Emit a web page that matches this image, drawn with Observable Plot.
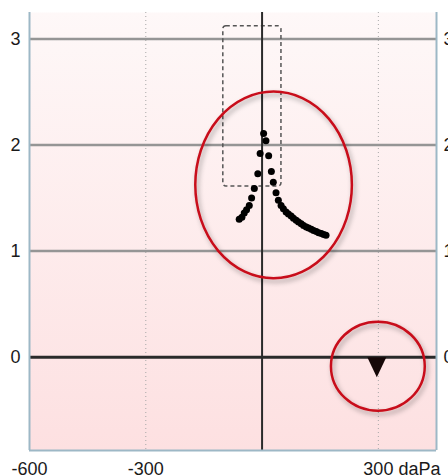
<!DOCTYPE html>
<html><head><meta charset="utf-8">
<script src="https://cdn.jsdelivr.net/npm/d3@7"></script>
<script src="https://cdn.jsdelivr.net/npm/@observablehq/plot@0.6"></script>
<style>html,body{margin:0;padding:0;background:#fff;overflow:hidden}#chart svg{display:block}</style>
</head><body><div id="chart"></div>
<script>
// Tympanogram measurement points (pressure in daPa, compliance in ml)
const pressure = [-59, -52, -46, -40, -33, -27, -20, -11, -5, 4, 10, 17, 24, 29, 36, 42, 49, 55, 62, 68, 75, 81, 88, 94, 101, 107, 114, 120, 127, 133, 140, 146, 153, 159, 165];
const compliance = [1.30, 1.32, 1.36, 1.39, 1.43, 1.50, 1.59, 1.73, 1.92, 2.11, 2.04, 1.90, 1.75, 1.65, 1.55, 1.48, 1.43, 1.40, 1.37, 1.35, 1.33, 1.31, 1.29, 1.274, 1.258, 1.242, 1.228, 1.217, 1.206, 1.195, 1.184, 1.174, 1.165, 1.157, 1.149];

// Axis ticks
const xTicksLeft = [-600, -300];
const xTicksUnit = [300];
const xUnitLabel = "300 daPa";
const yTicks = [0, 1, 2, 3];
const yGrid = [1, 2, 3];
const xDotted = [-300, 300];
const xDomain = [-600, 450];
const yDomain = [-0.88, 3.25];

// Normal region box
const boxX = [-100, 50];
const boxY = [1.61, 3.12];

// Marker (triangle) position
const markerX = [296];
const markerY = [0];

// Red annotation ellipses (centre and radii in data units)
const ellipseCX = [31, 300];
const ellipseCY = [1.62, -0.09];
const ellipseRX = [202, 121];
const ellipseRY = [0.88, 0.42];

const points = pressure.map((p, i) => ({p, c: compliance[i]}));
const boxData = [{x1: boxX[0], x2: boxX[1], y1: boxY[0], y2: boxY[1]}];
const markerData = markerX.map((x, i) => ({x, y: markerY[i]}));
const plainFormat = d => String(d);

const triDown = {
  draw(ctx) {
    ctx.moveTo(-9.5, 0);
    ctx.lineTo(9.5, 0);
    ctx.lineTo(0, 20);
    ctx.closePath();
  }
};

const plot = Plot.plot({
  width: 448,
  height: 476,
  marginLeft: 29,
  marginRight: 12,
  marginTop: 12,
  marginBottom: 26,
  style: {fontFamily: "'Liberation Sans', Arial, sans-serif", fontSize: "18px", background: "#fff", color: "#1a1a1a"},
  x: {domain: xDomain, label: null},
  y: {domain: yDomain, label: null},
  marks: [
    Plot.frame({fill: "url(#bgGrad)", stroke: "none"}),
    Plot.ruleX(xDotted, {stroke: "#a8a8a8", strokeWidth: 1, strokeDasharray: "1,3"}),
    Plot.ruleY(yGrid, {stroke: "#959595", strokeWidth: 2.5}),
    Plot.rect(boxData, {x1: "x1", x2: "x2", y1: "y1", y2: "y2", rx: 3, fill: "none", stroke: "#555", strokeWidth: 1.5, strokeDasharray: "4,3"}),
    Plot.ruleY([0], {stroke: "#2a2a2a", strokeWidth: 3}),
    Plot.ruleX([0], {stroke: "#2a2a2a", strokeWidth: 2}),
    Plot.ruleX(xDomain, {stroke: "#9db8c6", strokeWidth: 2}),
    Plot.ruleY([yDomain[0]], {stroke: "#9db8c6", strokeWidth: 2}),
    Plot.dot(points, {x: "p", y: "c", r: 3.5, fill: "#000", stroke: "none"}),
    Plot.dot(markerData, {x: "x", y: "y", symbol: triDown, fill: "#160808", stroke: "none"}),
    Plot.axisY(yTicks, {anchor: "left", tickSize: 0, tickPadding: 9, label: null, fontSize: 18, tickFormat: plainFormat}),
    Plot.axisY(yTicks, {anchor: "right", tickSize: 0, tickPadding: 7, label: null, fontSize: 18, tickFormat: plainFormat}),
    Plot.axisX(xTicksLeft, {anchor: "bottom", tickSize: 0, tickPadding: 12, label: null, fontSize: 18, tickFormat: plainFormat}),
    Plot.axisX(xTicksUnit, {anchor: "bottom", tickSize: 0, tickPadding: 12, label: null, fontSize: 18, tickFormat: () => xUnitLabel, textAnchor: "start", dx: -15})
  ]
});

const svg = d3.select(plot);
svg.insert("defs", ":first-child").html(`
  <linearGradient id="bgGrad" x1="0" y1="0" x2="0" y2="1">
    <stop offset="0" stop-color="#fef8f8"/>
    <stop offset="1" stop-color="#fde0e1"/>
  </linearGradient>
  <filter id="shadow" x="-20%" y="-20%" width="140%" height="140%">
    <feDropShadow dx="2" dy="3" stdDeviation="2.5" flood-color="#000" flood-opacity="0.35"/>
  </filter>`);

const xs = plot.scale("x"), ys = plot.scale("y");
const g = svg.append("g");
ellipseCX.forEach((cx, i) => {
  const cy = ellipseCY[i];
  g.append("ellipse")
    .attr("cx", xs.apply(cx))
    .attr("cy", ys.apply(cy))
    .attr("rx", Math.abs(xs.apply(cx + ellipseRX[i]) - xs.apply(cx)))
    .attr("ry", Math.abs(ys.apply(cy + ellipseRY[i]) - ys.apply(cy)))
    .attr("fill", "none")
    .attr("stroke", "#c8101a")
    .attr("stroke-width", 2.5)
    .attr("filter", "url(#shadow)");
});

document.getElementById("chart").append(plot);
</script>
</body></html>
